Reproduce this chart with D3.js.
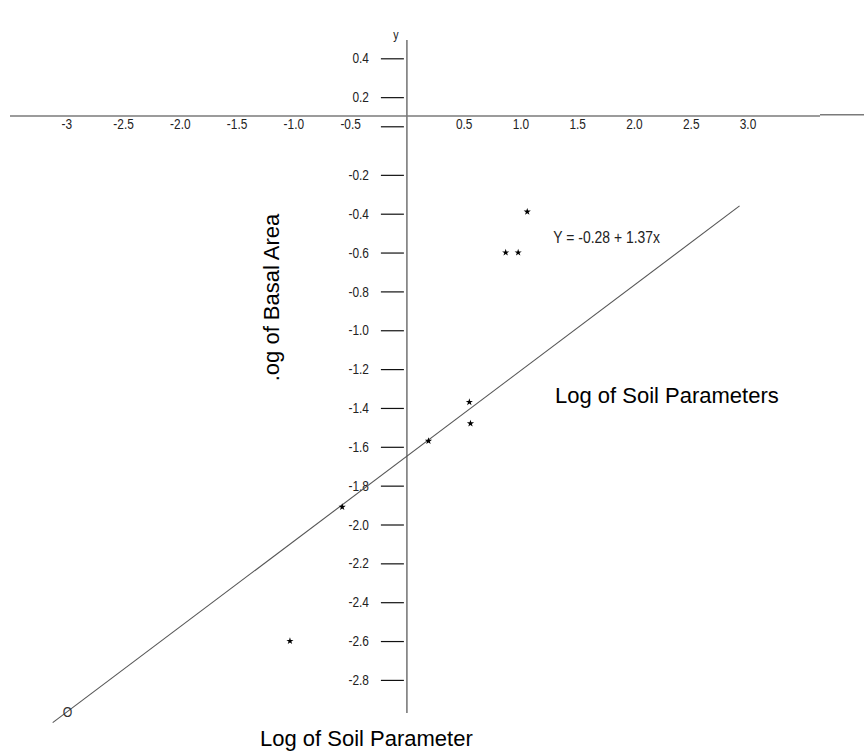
<!DOCTYPE html>
<html><head><meta charset="utf-8">
<script src="https://cdn.jsdelivr.net/npm/d3@7"></script>
<style>
body{margin:0;background:#fff}
.narrow{font-family:"Liberation Sans",Arial,sans-serif;}
.title{font-family:"Liberation Sans",Arial,sans-serif;font-size:22px;fill:#000;}
</style>
</head><body>
<svg id="c" width="864" height="753"></svg>
<script>
// ---- data ----
const xTickValues = [-3, -2.5, -2, -1.5, -1, -0.5, 0.5, 1, 1.5, 2, 2.5, 3];
const xTickLabels = ["-3", "-2.5", "-2.0", "-1.5", "-1.0", "-0.5", "0.5", "1.0", "1.5", "2.0", "2.5", "3.0"];
const yTickValues = [0.4, 0.2, 0.05, -0.2, -0.4, -0.6, -0.8, -1.0, -1.2, -1.4, -1.6, -1.8, -2.0, -2.2, -2.4, -2.6, -2.8];
const yTickLabels = ["0.4", "0.2", "", "-0.2", "-0.4", "-0.6", "-0.8", "-1.0", "-1.2", "-1.4", "-1.6", "-1.8", "-2.0", "-2.2", "-2.4", "-2.6", "-2.8"];
const pointX = [1.06, 0.87, 0.98, 0.55, 0.56, 0.19, -0.57, -1.03];
const pointY = [-0.39, -0.60, -0.60, -1.37, -1.48, -1.57, -1.91, -2.60];
const fitLineX = [-3.12, 2.93];
const fitLineY = [-3.02, -0.36];
const equationText = "Y = -0.28 + 1.37x";
const equationAt = [1.29, -0.52];
const originMarkAt = [-2.99, -2.965];
const xAxisCrossing = 0.103;
const xTitle = "Log of Soil Parameter";
const xTitle2 = "Log of Soil Parameters";
const yTitle = ".og of Basal Area";
const yAxisName = "y";

// ---- layout ----
const W = 864, H = 753;
const NARROW = 0.82; // horizontal condensing of the small labels
const svg = d3.select("#c");
const x = d3.scaleLinear().domain([-3, 3]).range([66.3, 747.5]);
const y = d3.scaleLinear().domain([0.4, -2.8]).range([58.3, 679.9]);
const axisColor = "#7a7a7a";

const x0 = x(0);
const yAx = y(xAxisCrossing);

function narrowText(px, py, str, size, anchor) {
  return svg.append("text").attr("class", "narrow")
    .attr("transform", `translate(${px},${py}) scale(${NARROW},1)`)
    .attr("text-anchor", anchor || "start")
    .attr("dy", "0.36em").attr("font-size", size).attr("fill", "#222").text(str);
}

// x axis line (with small step at the right end, as in the original)
svg.append("line").attr("x1", 10).attr("x2", 820).attr("y1", yAx).attr("y2", yAx)
  .attr("stroke", axisColor).attr("stroke-width", 1.6);
svg.append("line").attr("x1", 820).attr("x2", W).attr("y1", yAx - 1.3).attr("y2", yAx - 1.3)
  .attr("stroke", axisColor).attr("stroke-width", 1.6);

// y axis line
svg.append("line").attr("x1", x0).attr("x2", x0).attr("y1", 40).attr("y2", 713)
  .attr("stroke", axisColor).attr("stroke-width", 1.6);

// y ticks
const gy = svg.append("g").attr("class", "narrow")
  .attr("transform", `translate(${x0 - 3},0)`)
  .call(d3.axisLeft(y).tickValues(yTickValues)
    .tickFormat((d, i) => yTickLabels[i]).tickSize(23).tickPadding(12));
gy.select(".domain").remove();
gy.selectAll(".tick line").attr("stroke", "#111").attr("stroke-width", 1.2);
gy.selectAll(".tick text").attr("font-size", 14.5).attr("fill", "#222")
  .attr("font-family", null)
  .attr("x", function () { return +d3.select(this).attr("x") / NARROW; })
  .attr("transform", `scale(${NARROW},1)`);

// x tick labels
const gx = svg.append("g").attr("class", "narrow")
  .attr("transform", `translate(0,${yAx})`)
  .call(d3.axisBottom(x).tickValues(xTickValues)
    .tickFormat((d, i) => xTickLabels[i]).tickSize(0).tickPadding(3));
gx.select(".domain").remove();
gx.selectAll(".tick text").attr("font-size", 14.5).attr("fill", "#222")
  .attr("font-family", null)
  .attr("transform", `scale(${NARROW},1)`);

// axis name "y"
narrowText(x0 - 11, 34, yAxisName, 13, "middle");

// regression line
svg.append("line")
  .attr("x1", x(fitLineX[0])).attr("y1", y(fitLineY[0]))
  .attr("x2", x(fitLineX[1])).attr("y2", y(fitLineY[1]))
  .attr("stroke", "#555").attr("stroke-width", 1.1);

// origin mark
narrowText(x(originMarkAt[0]), y(originMarkAt[1]), "O", 15, "middle").attr("fill", "#333");

// points
const pts = pointX.map((v, i) => [v, pointY[i]]);
svg.append("g").selectAll("path").data(pts).join("path")
  .attr("transform", d => `translate(${x(d[0])},${y(d[1])})`)
  .attr("d", d3.symbol(d3.symbolStar, 16))
  .attr("fill", "#000");

// equation
narrowText(x(equationAt[0]), y(equationAt[1]), equationText, 17);

// titles
svg.append("text").attr("class", "title").attr("x", 555).attr("y", 402.5).text(xTitle2);
svg.append("text").attr("class", "title").attr("x", 260).attr("y", 746).text(xTitle);
svg.append("text").attr("class", "title")
  .attr("transform", "translate(279,297.5) rotate(-90)")
  .attr("text-anchor", "middle").text(yTitle);
</script>
</body></html>
